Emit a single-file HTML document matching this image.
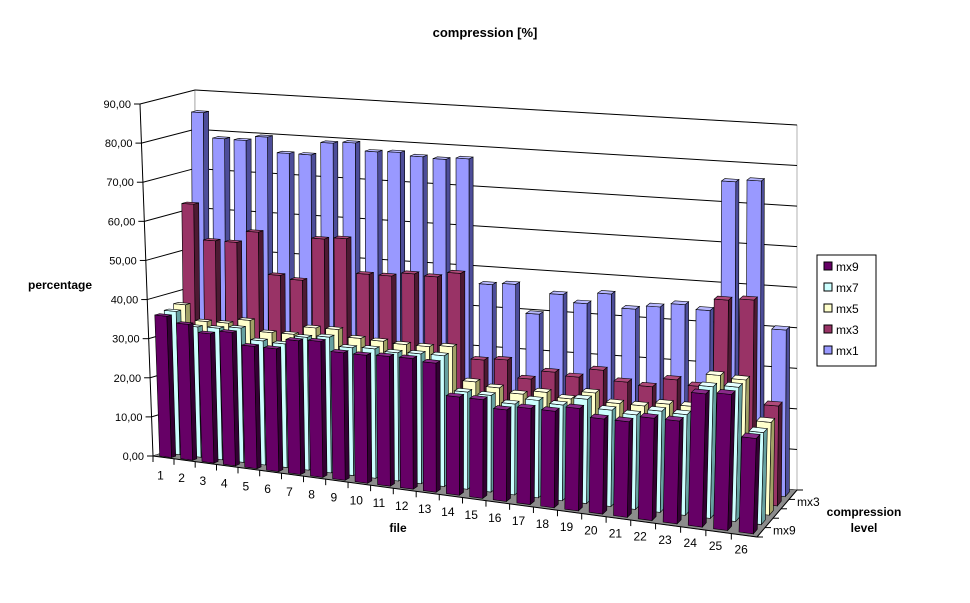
<!DOCTYPE html>
<html><head><meta charset="utf-8"><style>
body{margin:0;background:#fff;}
svg{display:block;font-family:"Liberation Sans",Arial,sans-serif;}
</style></head><body>
<svg id="chart" width="970" height="603" viewBox="0 0 970 603">
<rect width="970" height="603" fill="#fff"/>
<text x="485" y="37" font-size="13" font-weight="bold" text-anchor="middle">compression [%]</text>
<text x="60" y="289" font-size="12" font-weight="bold" text-anchor="middle">percentage</text>
<text x="398" y="532" font-size="12" font-weight="bold" text-anchor="middle">file</text>
<text x="864" y="516" font-size="12" font-weight="bold" text-anchor="middle"><tspan x="864">compression</tspan><tspan x="864" dy="16">level</tspan></text>
<g id="plot"></g>
<g id="legend"></g>
</svg>
<script>
const categories=['1','2','3','4','5','6','7','8','9','10','11','12','13','14','15','16','17','18','19','20','21','22','23','24','25','26'];
const seriesNames=['mx9','mx7','mx5','mx3','mx1'];
const mx9=[36,34.5,32.7,33.6,30.7,30.7,33.3,33.7,31.5,31.5,31.8,31.9,31.4,23.8,23.8,22,23,23,24.3,22.5,22.5,24,24,31,31.5,22];
const mx7=[36.5,33.1,33.3,33.9,31.2,31,33.2,33.8,31.7,32,31.6,31.9,32,23.7,23.5,22,23.5,23,25,23,22.5,24,23.8,31,31.5,21.5];
const mx5=[37.5,33.7,33.8,35,32.4,32.5,34.6,34.7,33,32.8,32.5,32.5,33,24.9,24,23,24,23,25,23,23,24,24,32,31.5,22];
const mx3=[62.4,53.5,53.5,56.5,46,45.2,56,56.5,48,48,49,48.7,50,29,29.5,25.3,27.5,26.8,29,26.6,26,28.2,27.1,48.5,49,24];
const mx1=[85,78.7,78.6,79.8,76,76,79.3,79.7,77.8,78,77.3,77,77.5,46.5,47,40,45.3,43.5,46.3,43,44,45,44,76,76.6,40.6];
const yTicks=[0,10,20,30,40,50,60,70,80,90];
const yTickLabels=['0,00','10,00','20,00','30,00','40,00','50,00','60,00','70,00','80,00','90,00'];
const depthLabels=['mx9','mx3'];

const seriesData=[mx9,mx7,mx5,mx3,mx1];
const colors=[['#660066','#330033','#8a2a8a'],['#ccffff','#66a0a0','#e6ffff'],['#ffffcc','#a0a066','#ffffe6'],['#993366','#4d1a33','#b04a7a'],['#9999ff','#4d4d99','#b8b8ff']];
const VMAX=90;
const C={F0L:[153,456],F1L:[140,104],F0R:[757,537],F1R:[770,145],B0L:[195,443],B1L:[195,90],B0R:[797,490],B1R:[797,125]};
const PK=1.11;
function lerp(a,b,t){return [a[0]+(b[0]-a[0])*t,a[1]+(b[1]-a[1])*t];}
function P(t,w,h){
  const u=t/(t+PK*(1-t));
  const f0=lerp(C.F0L,C.F0R,u),f1=lerp(C.F1L,C.F1R,u),b0=lerp(C.B0L,C.B0R,u),b1=lerp(C.B1L,C.B1R,u);
  const f=lerp(f0,f1,h),b=lerp(b0,b1,h);return lerp(f,b,w);
}
function yScale(v){return v/VMAX;}
function xScale(i){return (i+0.5)/categories.length;}
function dScale(s){return (s+0.5)/seriesNames.length;}
const NS='http://www.w3.org/2000/svg';
const plot=document.getElementById('plot');
function poly(pts,fill,stroke,parent){
  const e=document.createElementNS(NS,'polygon');
  e.setAttribute('points',pts.map(p=>p[0].toFixed(1)+','+p[1].toFixed(1)).join(' '));
  e.setAttribute('fill',fill);e.setAttribute('stroke',stroke||'none');e.setAttribute('stroke-width','0.6');
  (parent||plot).appendChild(e);return e;
}
function line(a,b,stroke,parent){
  const e=document.createElementNS(NS,'line');
  e.setAttribute('x1',a[0]);e.setAttribute('y1',a[1]);e.setAttribute('x2',b[0]);e.setAttribute('y2',b[1]);
  e.setAttribute('stroke',stroke);e.setAttribute('stroke-width','1');
  (parent||plot).appendChild(e);return e;
}
function text(x,y,s,anchor,size,parent){
  const e=document.createElementNS(NS,'text');
  e.setAttribute('x',x);e.setAttribute('y',y);e.setAttribute('font-size',size||11);e.setAttribute('text-anchor',anchor||'start');
  e.textContent=s;(parent||plot).appendChild(e);return e;
}
const lw=poly([P(0,0,0),P(0,1,0),P(0,1,1),P(0,0,1)],'#fff','#808080');


const bw=poly([P(0,1,0),P(1,1,0),P(1,1,1),P(0,1,1)],'#fff','#808080');


yTicks.forEach((v,k)=>{
  const h=yScale(v);
  const g1=line(P(0,0,h),P(0,1,h),'#000');
  
  
  const g2=line(P(0,1,h),P(1,1,h),'#000');
  
  
  const p=P(0,0,h);
  const t=line([p[0]-6,p[1]],p,'#000');
  
  
  const lb=text(p[0]-9,p[1]+4,yTickLabels[k],'end',11);
  
  
});
const ax=line(P(0,0,0),P(0,0,1),'#000');


const fl=poly([P(0,0,0),P(1,0,0),P(1,1,0),P(0,1,0)],'#8c8c8c','#666');


const bwU=0.56/categories.length/2, bwW=0.5/seriesNames.length/2;
for(let s=seriesNames.length-1;s>=0;s--){
  const g=document.createElementNS(NS,'g');
  
  
  plot.appendChild(g);
  const col=colors[s];
  for(let i=0;i<categories.length;i++){
    const u=xScale(i),w=dScale(s),h=yScale(seriesData[s][i]);
    const u0=u-bwU,u1=u+bwU,w0=w-bwW,w1=w+bwW;
    const bg=document.createElementNS(NS,'g');
    
    
    g.appendChild(bg);
    poly([P(u1,w0,0),P(u1,w1,0),P(u1,w1,h),P(u1,w0,h)],col[1],'#000',bg);
    poly([P(u0,w0,0),P(u1,w0,0),P(u1,w0,h),P(u0,w0,h)],col[0],'#000',bg);
    poly([P(u0,w0,h),P(u1,w0,h),P(u1,w1,h),P(u0,w1,h)],col[2],'#000',bg);
  }
}
const fe=line(P(0,0,0),P(1,0,0),'#000');


categories.forEach((c,i)=>{
  const p=P(i/categories.length,0,0);
  const t=line(p,[p[0],p[1]+6],'#000');
  
  
  const q=P(xScale(i),0,0);
  const lb=text(q[0]-3,q[1]+22-i*0.15,c,'middle',12);
  
  
});
const de=line(P(1,0,0),P(1,1,0),'#000');


for(let s=0;s<=seriesNames.length;s++){
  const p=P(1,s/seriesNames.length,0);
  const t=line(p,[p[0]+6,p[1]],'#000');
  
  
}
depthLabels.forEach(n=>{
  const s=seriesNames.indexOf(n);
  const p=P(1,dScale(s),0);
  const lb=text(p[0]+12,p[1]+2,n,'start',12);
  
  
});
const leg=document.getElementById('legend');
const lr=document.createElementNS(NS,'rect');
lr.setAttribute('x',817);lr.setAttribute('y',255);lr.setAttribute('width',59);lr.setAttribute('height',111);
lr.setAttribute('fill','#fff');lr.setAttribute('stroke','#000');
leg.appendChild(lr);
seriesNames.forEach((n,k)=>{
  const y=262+k*21;
  const r=document.createElementNS(NS,'rect');
  r.setAttribute('x',824);r.setAttribute('y',y);r.setAttribute('width',8);r.setAttribute('height',8);
  r.setAttribute('fill',colors[k][0]);r.setAttribute('stroke','#000');
  
  
  leg.appendChild(r);
  const t=text(836,y+9,n,'start',12,leg);
  
  
});
</script>
</body></html>
